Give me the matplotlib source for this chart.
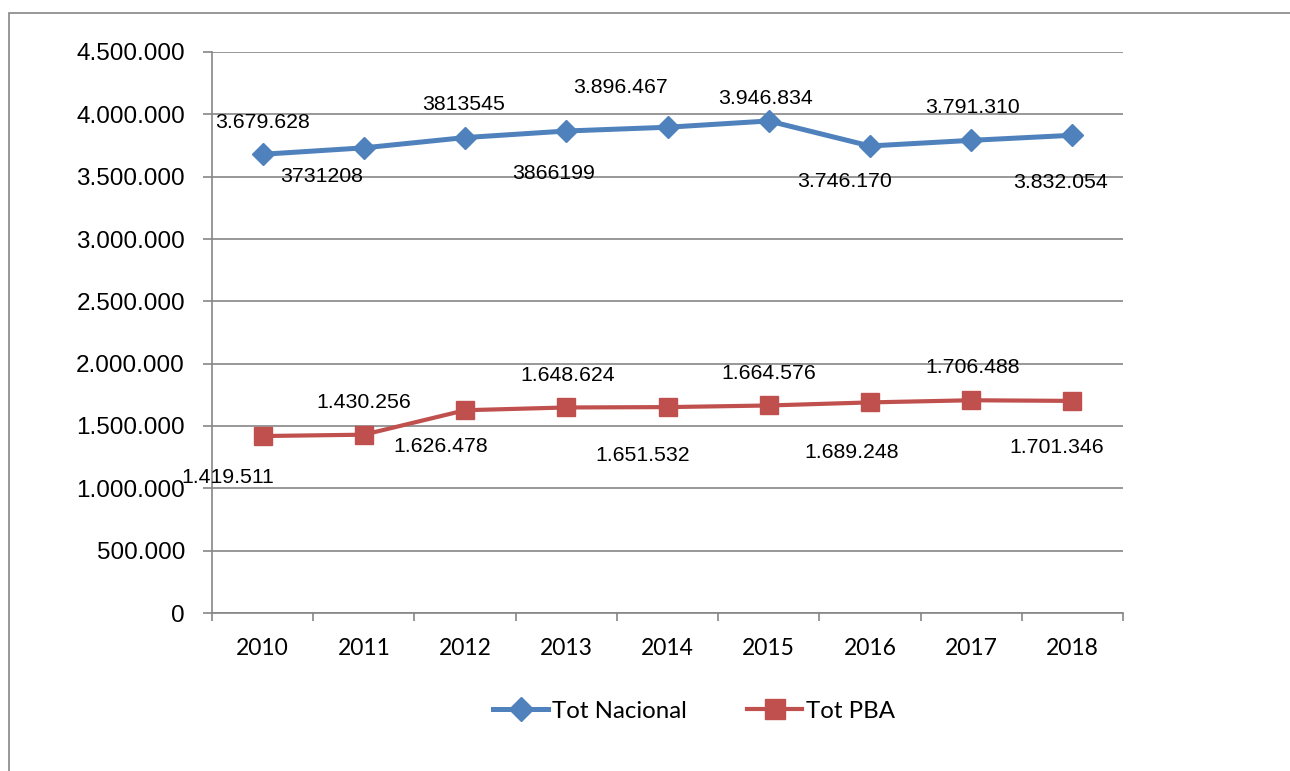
import matplotlib.pyplot as plt
from matplotlib.ticker import FuncFormatter, FixedLocator
from matplotlib.patches import Rectangle

# Data
# --------------
years = ['2010', '2011', '2012', '2013', '2014', '2015', '2016', '2017', '2018']
tot_nacional = [3679628, 3731208, 3813545, 3866199, 3896467, 3946834, 3746170, 3791310, 3832054]
tot_pba = [1419511, 1430256, 1626478, 1648624, 1651532, 1664576, 1689248, 1706488, 1701346]

# label texts as printed on the chart
lab_nacional = ['3.679.628', '3731208', '3813545', '3866199', '3.896.467',
                '3.946.834', '3.746.170', '3.791.310', '3.832.054']
lab_pba = ['1.419.511', '1.430.256', '1.626.478', '1.648.624', '1.651.532',
           '1.664.576', '1.689.248', '1.706.488', '1.701.346']

# label offsets in pixels (dx, dy)
off_nacional = [(0, 32), (-42, -29), (-1, 33), (-13, -42), (-47, 40),
                (-3, 22), (-25, -36), (1, 33), (-12, -47)]
off_pba = [(-35, -41), (0, 32), (-24, -36), (1, 32), (-25, -48),
           (0, 32), (-18, -50), (1, 33), (-16, -47)]

blue = '#4F81BD'
red = '#C0504D'
grey = '#868686'

fig = plt.figure(figsize=(12.9, 7.71), dpi=100)
ax = fig.add_axes([212/1290, 1-613/771, (1123-212)/1290, (613-52)/771])

# outer border (chart area frame)
fig.patches.append(Rectangle((9/1290, -0.1), 1.2, 1-13/771+0.1, transform=fig.transFigure,
                             fill=False, edgecolor=grey, linewidth=1.2))

x = list(range(len(years)))
ax.plot(x, tot_nacional, color=blue, linewidth=3.6, marker='D', markersize=11,
        label='Tot Nacional', zorder=3)
ax.plot(x, tot_pba, color=red, linewidth=3.0, marker='s', markersize=13.5,
        label='Tot PBA', zorder=3)

for i in x:
    ax.annotate(lab_nacional[i], (i, tot_nacional[i]), xytext=off_nacional[i],
                textcoords='offset pixels', ha='center', va='center',
                fontsize=15.3, family='Liberation Sans', zorder=4)
    ax.annotate(lab_pba[i], (i, tot_pba[i]), xytext=off_pba[i],
                textcoords='offset pixels', ha='center', va='center',
                fontsize=15.3, family='Liberation Sans', zorder=4)

# Axes
ax.set_xlim(-0.5, len(years) - 0.5)
ax.set_ylim(0, 4500000)
ax.set_yticks(range(0, 4500001, 500000))
ax.yaxis.set_major_formatter(FuncFormatter(lambda v, p: f"{int(v):,}".replace(',', '.')))
ax.yaxis.grid(True, color=grey, linewidth=1.2)
ax.set_axisbelow(True)

ax.set_xticks(x)
ax.set_xticklabels(years)
ax.xaxis.set_minor_locator(FixedLocator([i - 0.5 for i in range(len(years) + 1)]))
ax.tick_params(axis='x', which='major', length=0, pad=18, labelsize=16.5)
ax.tick_params(axis='x', which='minor', length=6, width=1.2, color=grey, direction='out')
ax.tick_params(axis='y', length=6.5, width=1.2, color=grey, pad=13, labelsize=17.5)
for lbl in ax.get_xticklabels():
    lbl.set_family('Lato')
for lbl in ax.get_yticklabels():
    lbl.set_family('Liberation Sans')

for s in ['top', 'right']:
    ax.spines[s].set_visible(False)
for s in ['left', 'bottom']:
    ax.spines[s].set_color(grey)
    ax.spines[s].set_linewidth(1.2)

# Legend
fig.legend(loc='center', bbox_to_anchor=(694/1290, 1-711/771), ncol=2, frameon=False,
           prop={'family': 'Lato', 'size': 17.3}, handlelength=2.3, handletextpad=0.15,
           columnspacing=2.5, markerscale=1.1)

plt.savefig('out.png', dpi=100)
